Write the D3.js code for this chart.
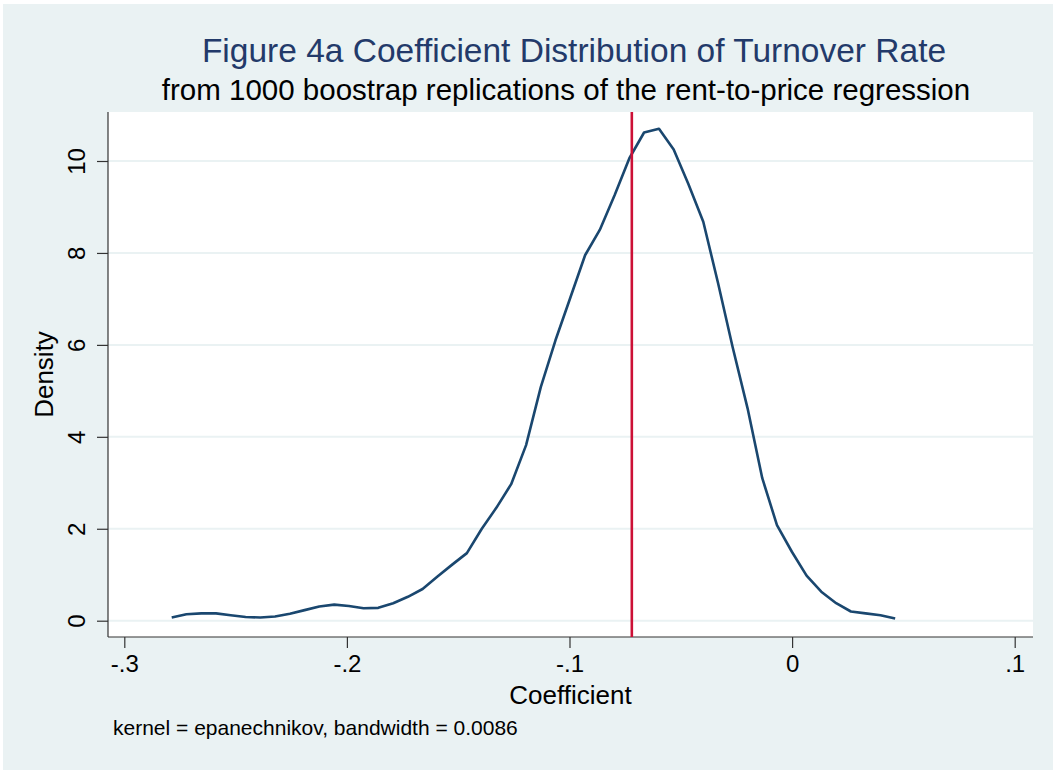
<!DOCTYPE html>
<html>
<head>
<meta charset="utf-8">
<script src="https://cdn.jsdelivr.net/npm/d3@7"></script>
<style>
	body { margin: 0; background: white; }
	text { font-family: "Liberation Sans", Arial, sans-serif; }
</style>
</head>
<body>
<div id="chart"></div>
<script>

// Kernel density estimate (50 evaluation points).
let coefficient = [
	-0.2787, -0.2721, -0.2654, -0.2588, -0.2522, -0.2455, -0.2389, -0.2323, -0.2256, -0.2190,
	-0.2124, -0.2057, -0.1991, -0.1925, -0.1859, -0.1792, -0.1726, -0.1660, -0.1593, -0.1527,
	-0.1461, -0.1394, -0.1328, -0.1262, -0.1195, -0.1129, -0.1063, -0.0996, -0.0930, -0.0864,
	-0.0797, -0.0731, -0.0665, -0.0598, -0.0532, -0.0466, -0.0399, -0.0333, -0.0267, -0.0200,
	-0.0134, -0.0068, -0.0001, 0.0065, 0.0131, 0.0198, 0.0264, 0.0330, 0.0397, 0.0463
]
let density = [
	0.07, 0.14, 0.16, 0.16, 0.12, 0.08, 0.07, 0.09, 0.15, 0.23,
	0.31, 0.35, 0.32, 0.27, 0.28, 0.38, 0.52, 0.69, 0.96, 1.22,
	1.47, 2.00, 2.46, 2.97, 3.82, 5.08, 6.10, 7.03, 7.95, 8.50,
	9.26, 10.06, 10.62, 10.70, 10.25, 9.50, 8.68, 7.35, 5.95, 4.62,
	3.10, 2.08, 1.50, 0.98, 0.63, 0.38, 0.20, 0.16, 0.12, 0.05
]

// Point estimate marked by the vertical line.
let pointEstimate = -0.072

let xTicks = [-0.3, -0.2, -0.1, 0, 0.1]
let xTickLabels = ["-.3", "-.2", "-.1", "0", ".1"]
let yTicks = [0, 2, 4, 6, 8, 10]

let titleText = "Figure 4a Coefficient Distribution of Turnover Rate"
let subtitleText = "from 1000 boostrap replications of the rent-to-price regression"
let noteText = "kernel = epanechnikov, bandwidth = 0.0086"



let width = 1053
let height = 770
let plot = {left: 108, right: 1033, top: 112, bottom: 637}

let bgcolor = "#eaf2f3"
let navy = "#1a476f"


let svg = d3.select("#chart")
  .append("svg")
	.attr("width", width)
	.attr("height", height)

// Graph region and plot region.
svg.append("rect")
	.attr("x", 3).attr("y", 4)
	.attr("width", width-3).attr("height", height-4)
	.attr("fill", bgcolor)

svg.append("rect")
	.attr("x", plot.left).attr("y", plot.top)
	.attr("width", plot.right-plot.left).attr("height", plot.bottom-plot.top)
	.attr("fill", "white")


let x = d3.scaleLinear()
  .domain([-0.3, 0.1])
  .range([124.3, 1014.7])

let y = d3.scaleLinear()
  .domain([0, 10])
  .range([620.7, 161])


// Horizontal grid lines.
svg.append("g")
  .selectAll("line")
  .data(yTicks)
  .enter()
  .append("line")
	.attr("x1", plot.left)
	.attr("x2", plot.right)
	.attr("y1", d=>y(d))
	.attr("y2", d=>y(d))
	.attr("stroke", bgcolor)
	.attr("stroke-width", 2)


// Axes.
let xAxis = svg.append("g")
  .attr("transform", `translate(0,${plot.bottom})`)
  .call(d3.axisBottom(x)
	.tickValues(xTicks)
	.tickFormat((d,i)=>xTickLabels[i])
	.tickSize(11)
	.tickPadding(7))

let yAxis = svg.append("g")
  .attr("transform", `translate(${plot.left},0)`)
  .call(d3.axisLeft(y)
	.tickValues(yTicks)
	.tickFormat(d3.format("d"))
	.tickSize(11)
	.tickPadding(7))

;[xAxis, yAxis].forEach(a=>{
	a.select(".domain").remove()
	a.selectAll("line").attr("stroke", "#333").attr("stroke-width", 1.2)
	a.selectAll("text")
	  .attr("fill", "black")
	  .attr("font-size", 24)
	  .attr("font-family", "Liberation Sans, Arial, sans-serif")
}) // forEach

// Rotate the y tick labels like Stata does.
yAxis.selectAll(".tick text")
  .attr("x", null)
  .attr("dy", null)
  .attr("text-anchor", "middle")
  .attr("transform", "translate(-23,0) rotate(-90)")

// Axis lines run the full length of the plot region.
svg.append("line")
	.attr("x1", plot.left).attr("x2", plot.left)
	.attr("y1", plot.top).attr("y2", plot.bottom)
	.attr("stroke", "#333").attr("stroke-width", 1.2)
svg.append("line")
	.attr("x1", plot.left).attr("x2", plot.right)
	.attr("y1", plot.bottom).attr("y2", plot.bottom)
	.attr("stroke", "#333").attr("stroke-width", 1.2)


// Density curve.
let line = d3.line()
  .x(d=>x(d[0]))
  .y(d=>y(d[1]))

svg.append("path")
	.datum(coefficient.map((v,i)=>[v, density[i]]))
	.attr("d", line)
	.attr("fill", "none")
	.attr("stroke", navy)
	.attr("stroke-width", 2.6)
	.attr("stroke-linejoin", "round")


// Vertical reference line.
svg.append("line")
	.attr("x1", x(pointEstimate)).attr("x2", x(pointEstimate))
	.attr("y1", plot.top).attr("y2", plot.bottom)
	.attr("stroke", "#cc1036")
	.attr("stroke-width", 2.6)


// Titles.
let cx = (plot.left+plot.right)/2

svg.append("text")
	.attr("x", 574).attr("y", 62)
	.attr("text-anchor", "middle")
	.attr("font-size", 33.5)
	.attr("fill", "#233a6a")
	.text(titleText)

svg.append("text")
	.attr("x", 566).attr("y", 100)
	.attr("text-anchor", "middle")
	.attr("font-size", 29.5)
	.attr("fill", "black")
	.text(subtitleText)

svg.append("text")
	.attr("x", cx).attr("y", 704)
	.attr("text-anchor", "middle")
	.attr("font-size", 26)
	.attr("fill", "black")
	.text("Coefficient")

svg.append("text")
	.attr("transform", `translate(53,${(plot.top+plot.bottom)/2}) rotate(-90)`)
	.attr("text-anchor", "middle")
	.attr("font-size", 26)
	.attr("fill", "black")
	.text("Density")

svg.append("text")
	.attr("x", 113).attr("y", 735)
	.attr("font-size", 21)
	.attr("fill", "black")
	.text(noteText)

</script>
</body>
</html>
